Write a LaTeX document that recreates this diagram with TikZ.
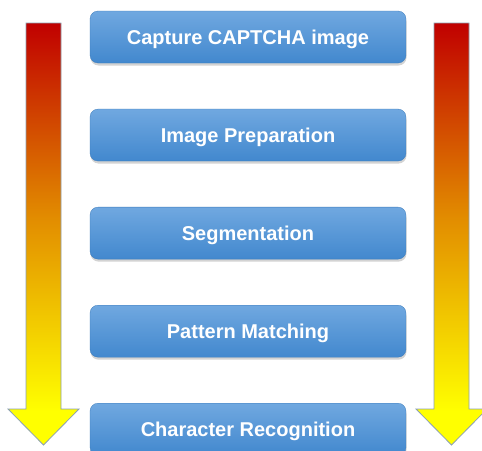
\documentclass[tikz,border=0pt]{standalone}
\usepackage{fontspec}
\setmainfont{Liberation Sans}
\usepackage{xcolor}
\definecolor{boxtop}{RGB}{112,168,224}
\definecolor{boxbottom}{RGB}{66,136,206}
\definecolor{arrowred}{RGB}{192,0,0}
\definecolor{arroworange}{RGB}{226,140,0}
\definecolor{arrowyellow}{RGB}{255,255,0}
\definecolor{arrowline}{RGB}{140,160,176}
\usetikzlibrary{positioning, shadows}

\pgfdeclareverticalshading{redtoyellow}{100bp}{color(0bp)=(arrowyellow); color(29bp)=(arrowyellow); color(52bp)=(arroworange); color(75bp)=(arrowred); color(100bp)=(arrowred)}

\begin{document}
\begin{tikzpicture}[x=1pt, y=-1pt,
    stepbox/.style={rectangle, rounded corners=8pt, minimum width=316pt, minimum height=52pt,
      top color=boxtop, bottom color=boxbottom, draw=boxbottom!90!black, line width=0.3pt,
      drop shadow={opacity=0.35, shadow xshift=0.5pt, shadow yshift=-2.5pt},
      text height=18.4pt, text depth=4pt,
      text=white, font=\bfseries\fontsize{20}{24}\selectfont},
    flowarrow/.style={shading=redtoyellow, draw=arrowline, line width=0.8pt},
    node distance=45.75pt]

        \useasboundingbox (0,0) rectangle (482,450);

        % Pfeil links
        \shade[flowarrow] (26,23) -- (61,23) -- (61,409) -- (79,409) -- (43.5,445)
          -- (8,409) -- (26,409) -- cycle;

        % Pfeil rechts
        \shade[flowarrow] (434,23) -- (469,23) -- (469,409) -- (487,409) -- (451.5,445)
          -- (416,409) -- (434,409) -- cycle;

        % Schritte
        \node[stepbox] (capture) at (248,37) {Capture CAPTCHA image};
        \node[stepbox, below=of capture] (prepare) {Image Preparation};
        \node[stepbox, below=of prepare] (segment) {Segmentation};
        \node[stepbox, below=of segment] (match) {Pattern Matching};
        \node[stepbox, below=of match] (recognize) {Character Recognition};

      \end{tikzpicture}
\end{document}
